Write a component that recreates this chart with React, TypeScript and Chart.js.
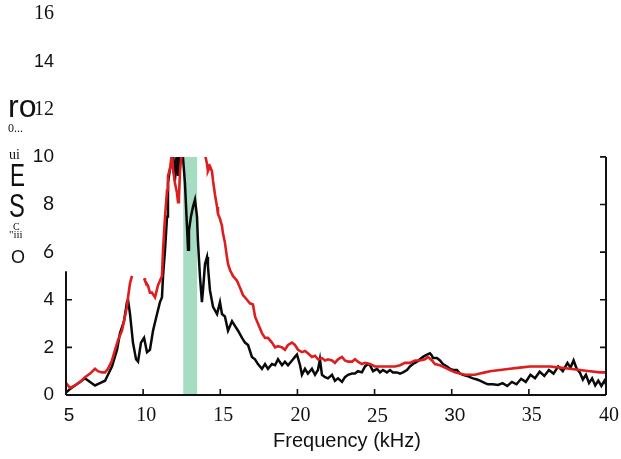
import { useEffect, useRef } from "react";
import { Chart, registerables } from "chart.js";

Chart.register(...registerables);

// ---------- data ----------
const blackFreq = [
  5.0, 5.26, 5.58, 5.91, 6.23, 6.56, 6.88, 7.2, 7.53, 7.72, 7.98, 8.31, 8.5, 8.76, 8.95, 9.02, 9.15, 9.34, 9.54, 9.67,
  9.86, 10.06, 10.25, 10.44, 10.64, 10.9, 11.09, 11.22, 11.29, 11.42, 11.55, 11.61, 11.74, 11.87, 11.93, 12.06, 12.19,
  12.26, 12.39, 12.52, 12.71, 12.84, 12.91, 12.97, 13.1, 13.23, 13.36, 13.49, 13.55, 13.68, 13.81, 13.88, 14.01, 14.14,
  14.2, 14.33, 14.53, 14.79, 14.98, 15.11, 15.3, 15.5, 15.76, 15.95, 16.15, 16.41, 16.6, 16.8, 17.05, 17.25, 17.44,
  17.7, 17.9, 18.09, 18.35, 18.55, 18.74, 19.0, 19.19, 19.39, 19.65, 19.84, 19.97, 20.17, 20.29, 20.49, 20.68, 20.94,
  21.14, 21.33, 21.46, 21.59, 21.79, 21.98, 22.24, 22.43, 22.63, 22.89, 23.08, 23.28, 23.54, 23.73, 23.92, 24.18, 24.38,
  24.57, 24.7, 24.9, 25.16, 25.35, 25.54, 25.8, 26.0, 26.19, 26.45, 26.65, 26.84, 27.1, 27.29, 27.49, 27.75, 27.94,
  28.14, 28.4, 28.59, 28.72, 28.78, 29.04, 29.24, 29.43, 29.69, 29.89, 30.08, 30.34, 30.53, 30.73, 30.99, 31.18, 31.38,
  31.64, 31.83, 32.16, 32.35, 32.67, 33.0, 33.3, 33.6, 33.9, 34.2, 34.5, 34.8, 35.1, 35.4, 35.7, 36.0, 36.3, 36.6, 36.9,
  37.2, 37.5, 37.7, 37.9, 38.1, 38.3, 38.5, 38.7, 38.9, 39.1, 39.3, 39.5, 39.7, 39.9, 40.0,
];
const blackLevel = [
  0.1, 0.25, 0.4, 0.55, 0.7, 0.55, 0.4, 0.5, 0.6, 0.85, 1.2, 1.9, 2.6, 3.1, 3.9, 4.0, 3.4, 2.2, 1.5, 1.4,
  2.2, 2.4, 1.8, 1.9, 2.7, 3.4, 3.9, 4.1, 5.0, 6.1, 7.5, 8.9, 9.5, 9.7, 10.3, 9.0, 10.3,
  9.2, 10.5, 10.5, 8.9, 7.1, 6.1, 6.9, 7.5, 7.9, 8.2, 7.5, 6.5, 5.0, 3.9, 4.4, 5.5, 5.8,
  5.4, 4.4, 3.7, 3.4, 3.9, 3.4, 3.3, 2.7, 3.1, 2.9, 2.7, 2.4, 2.2, 2.1, 1.6, 1.5, 1.3,
  1.1, 1.3, 1.1, 1.3, 1.25, 1.5, 1.25, 1.4, 1.25, 1.45, 1.6, 1.7, 1.25, 0.85, 1.1, 0.9, 1.1,
  0.85, 1.05, 1.5, 0.85, 0.75, 0.7, 0.85, 0.6, 0.7, 0.55, 0.75, 0.85, 0.9, 0.9, 1.0, 0.95, 1.2,
  1.3, 1.25, 1.0, 1.1, 0.95, 1.05, 0.95, 1.05, 0.95, 0.95, 0.9, 0.95, 1.05, 1.2, 1.3, 1.4, 1.5,
  1.6, 1.7, 1.75, 1.65, 1.55, 1.55, 1.45, 1.3, 1.2, 1.1, 1.05, 1.05, 0.9, 0.85, 0.8, 0.75, 0.7,
  0.65, 0.6, 0.5, 0.45, 0.45, 0.42, 0.5, 0.38, 0.55, 0.45, 0.68, 0.55, 0.85, 0.7, 0.98, 0.8, 1.05, 0.9, 1.2,
  1.0, 1.35, 1.15, 1.45, 1.1, 0.95, 0.65, 0.85, 0.5, 0.7, 0.4, 0.6, 0.38, 0.6, 0.45,
];

const redFreq = [
  5.0, 5.26, 5.58, 5.91, 6.23, 6.56, 6.88, 7.07, 7.33, 7.53, 7.72, 7.98, 8.18, 8.37, 8.63, 8.82, 8.95, 9.02, 9.15, 9.28,
  9.6, 10.06, 10.12, 10.31, 10.44, 10.57, 10.77, 10.96, 11.09, 11.22, 11.29, 11.42, 11.55, 11.61, 11.74, 11.87, 11.93,
  12.06, 12.19, 12.26, 12.32, 12.39, 12.52, 13.2, 14.01, 14.14, 14.2, 14.33, 14.46, 14.53, 14.66, 14.79, 14.85, 14.98,
  15.11, 15.17, 15.3, 15.43, 15.5, 15.63, 15.82, 16.08, 16.28, 16.47, 16.73, 16.92, 17.12, 17.25, 17.44, 17.7, 17.9,
  18.09, 18.35, 18.55, 18.74, 19.0, 19.19, 19.39, 19.65, 19.84, 20.04, 20.29, 20.49, 20.68, 20.94, 21.14, 21.33, 21.59,
  21.79, 21.98, 22.24, 22.43, 22.63, 22.89, 23.08, 23.28, 23.54, 23.73, 23.92, 24.18, 24.38, 24.7, 25.03, 25.35, 25.67,
  26.0, 26.32, 26.65, 26.97, 27.29, 27.62, 27.94, 28.27, 28.46, 28.72, 28.91, 29.24, 29.56, 29.89, 30.21, 30.53, 30.86,
  31.18, 31.51, 31.83, 32.16, 32.48, 33.13, 33.77, 34.42, 35.07, 35.72, 36.37, 37.02, 37.66, 38.31, 38.96, 39.61, 40.0,
];
const redLevel: (number | null)[] = [
  0.5, 0.3, 0.4, 0.55, 0.75, 0.9, 1.1, 1.0, 0.95, 0.95, 1.1, 1.45, 1.9, 2.3, 2.7, 3.3, 3.7, 4.1, 4.7, 5.0,
  null, 4.9, 4.8, 4.6, 4.3, 4.3, 4.1, 4.6, 4.8, 5.0, 6.1, 7.5, 8.6, 9.2, 9.5, 10.2, 9.5,
  8.9, 8.5, 8.1, 8.3, 9.4, 10.3, null, 10.1, 9.7, 9.4, 9.6, 9.4, 9.0, 8.4, 7.9, 7.6, 7.4,
  7.1, 6.8, 6.4, 5.8, 5.5, 5.25, 5.0, 4.8, 4.5, 4.2, 4.0, 3.85, 3.8, 3.3, 3.0, 2.6, 2.4,
  2.4, 2.2, 2.0, 2.05, 2.0, 1.9, 2.1, 2.2, 2.1, 1.9, 1.8, 1.85, 1.75, 1.6, 1.65, 1.5, 1.55,
  1.45, 1.5, 1.45, 1.35, 1.5, 1.6, 1.45, 1.4, 1.4, 1.5, 1.4, 1.3, 1.35, 1.3, 1.2, 1.2, 1.2,
  1.2, 1.2, 1.25, 1.35, 1.35, 1.45, 1.45, 1.5, 1.6, 1.45, 1.3, 1.25, 1.15, 1.05, 0.95, 0.9, 0.85,
  0.85, 0.85, 0.9, 0.95, 1.0, 1.05, 1.1, 1.15, 1.2, 1.2, 1.2, 1.15, 1.1, 1.05, 1.0, 0.95, 0.95,
];

const xTickValues = [5, 10, 15, 20, 25, 30, 35, 40];
const yTickValues = [0, 2, 4, 6, 8, 10, 12, 14, 16];
const bottomAxisTicks = [10, 15, 20, 25, 30, 35];
const leftAxisTicks = [2, 4];
const rightAxisTicks = [2, 4, 6, 8, 10];
const bandRange = [12.6, 13.5];
const plotTopValue = 10;
const leftAxisTopValue = 5.2;
const xTitle = "Frequency (kHz)";
const yTitleFragments = ["ro", "0...", "ui", "E", "S", "C", '"iii', "O"];

// ---------- styles ----------
const SERIF = '"Liberation Serif", "Times New Roman", serif';
const SANS = '"Liberation Sans", Arial, sans-serif';
const INK = "#111111";

const yTickFont: Record<number, { family: string; size: number }> = {
  16: { family: SERIF, size: 20 },
  14: { family: SANS, size: 18 },
  12: { family: SERIF, size: 20 },
  10: { family: SANS, size: 19 },
  8: { family: SANS, size: 20 },
  6: { family: "Lato, " + SANS, size: 19 },
  4: { family: SANS, size: 19 },
  2: { family: SANS, size: 19 },
  0: { family: SANS, size: 19 },
};
const xTickFont: Record<number, { family: string; size: number }> = {
  5: { family: SANS, size: 19 },
  10: { family: SERIF, size: 20 },
  15: { family: SERIF, size: 20 },
  20: { family: SERIF, size: 20 },
  25: { family: SERIF, size: 21 },
  30: { family: SANS, size: 19 },
  35: { family: SERIF, size: 20 },
  40: { family: SERIF, size: 20 },
};

// position/font of each fragment of the (scanned) vertical axis title
const yTitleLayout = [
  { x: 8, y: 117, font: `32px ${SANS}`, sx: 1 },
  { x: 8, y: 132, font: `12px ${SERIF}`, sx: 1 },
  { x: 9, y: 159, font: `14px ${SERIF}`, sx: 1 },
  { x: 10, y: 186, font: `32px ${SANS}`, sx: 0.7 },
  { x: 9, y: 217, font: `33px ${SANS}`, sx: 0.72 },
  { x: 13, y: 230, font: `10px ${SERIF}`, sx: 1 },
  { x: 9, y: 238, font: `11px ${SERIF}`, sx: 1 },
  { x: 11, y: 263, font: `18px ${SANS}`, sx: 1 },
];

const decorPlugin = {
  id: "decor",
  beforeDatasetsDraw(chart: any) {
    const { ctx, chartArea } = chart;
    const xs = chart.scales.x;
    const ys = chart.scales.y;
    const top = ys.getPixelForValue(plotTopValue);
    const bottom = ys.getPixelForValue(0);
    const b0 = xs.getPixelForValue(bandRange[0]);
    const b1 = xs.getPixelForValue(bandRange[1]);
    ctx.save();
    ctx.fillStyle = "#a6dcc2";
    ctx.fillRect(b0, top, b1 - b0, bottom - top);
    ctx.restore();
    ctx.save();
    ctx.beginPath();
    ctx.rect(chartArea.left, top, chartArea.right - chartArea.left, bottom - top + 3);
    ctx.clip();
  },
  afterDatasetsDraw(chart: any) {
    const { ctx, chartArea } = chart;
    ctx.restore();
    const xs = chart.scales.x;
    const ys = chart.scales.y;
    const bottom = ys.getPixelForValue(0);
    const left = chartArea.left;
    const right = chartArea.right;
    ctx.save();
    ctx.strokeStyle = INK;
    ctx.lineWidth = 2;
    ctx.beginPath();
    ctx.moveTo(left, bottom);
    ctx.lineTo(right, bottom);
    ctx.moveTo(right, bottom);
    ctx.lineTo(right, ys.getPixelForValue(plotTopValue));
    ctx.moveTo(left, bottom);
    ctx.lineTo(left, ys.getPixelForValue(leftAxisTopValue));
    ctx.stroke();
    ctx.lineWidth = 1.6;
    ctx.beginPath();
    const tl = 6;
    for (const v of bottomAxisTicks) {
      const px = xs.getPixelForValue(v);
      ctx.moveTo(px, bottom);
      ctx.lineTo(px, bottom - tl);
    }
    for (const v of leftAxisTicks) {
      const py = ys.getPixelForValue(v);
      ctx.moveTo(left, py);
      ctx.lineTo(left + tl, py);
    }
    for (const v of rightAxisTicks) {
      const py = ys.getPixelForValue(v);
      ctx.moveTo(right, py);
      ctx.lineTo(right - tl, py);
    }
    ctx.stroke();
    ctx.restore();
  },
  afterDraw(chart: any) {
    const { ctx, chartArea } = chart;
    ctx.save();
    ctx.fillStyle = INK;
    ctx.textBaseline = "alphabetic";
    ctx.textAlign = "center";
    ctx.font = `20px ${SANS}`;
    ctx.fillText(xTitle, (chartArea.left + chartArea.right) / 2 + 11, 447);
    ctx.textAlign = "left";
    yTitleFragments.forEach((t, i) => {
      const l = yTitleLayout[i];
      ctx.save();
      ctx.font = l.font;
      ctx.translate(l.x, l.y);
      ctx.scale(l.sx, 1);
      ctx.fillText(t, 0, 0);
      ctx.restore();
    });
    ctx.restore();
  },
};

export default function App() {
  const ref = useRef<HTMLCanvasElement | null>(null);
  useEffect(() => {
    if (!ref.current) return;
    const chart = new Chart(ref.current, {
      type: "line",
      data: {
        datasets: [
          {
            label: "red",
            data: redFreq.map((f, i) => ({ x: f, y: redLevel[i] })),
            borderColor: "rgb(222,30,30)",
            borderWidth: 2.6,
            pointRadius: 0,
            tension: 0,
            spanGaps: false,
            clip: false as any,
          },
          {
            label: "black",
            data: blackFreq.map((f, i) => ({ x: f, y: blackLevel[i] })),
            borderColor: "#0a0a0a",
            borderWidth: 2.5,
            pointRadius: 0,
            tension: 0,
            clip: false as any,
          },
        ],
      },
      options: {
        animation: false,
        responsive: true,
        maintainAspectRatio: false,
        layout: { padding: { top: 14, right: 15, left: 0, bottom: 0 } },
        plugins: { legend: { display: false }, tooltip: { enabled: false } },
        scales: {
          x: {
            type: "linear",
            min: 5,
            max: 40,
            grid: { display: false },
            border: { display: false },
            afterBuildTicks: (s: any) => {
              s.ticks = xTickValues.map((v) => ({ value: v }));
            },
            afterFit: (s: any) => {
              s.height = 64;
              s.paddingLeft = 0;
              s.paddingRight = 0;
            },
            ticks: {
              autoSkip: false,
              maxRotation: 0,
              padding: 1,
              labelOffset: 3,
              color: INK,
              callback: (v: any) => String(v),
              font: (c: any) => {
                const f = xTickFont[c.tick ? c.tick.value : 5] || xTickFont[5];
                return { family: f.family, size: f.size };
              },
            },
          },
          y: {
            type: "linear",
            min: 0,
            max: 16,
            grid: { display: false },
            border: { display: false },
            afterBuildTicks: (s: any) => {
              s.ticks = yTickValues.map((v) => ({ value: v }));
            },
            afterFit: (s: any) => {
              s.width = 66;
              s.paddingTop = 0;
              s.paddingBottom = 0;
            },
            ticks: {
              autoSkip: false,
              padding: 4,
              color: INK,
              callback: (v: any) => String(v),
              font: (c: any) => {
                const f = yTickFont[c.tick ? c.tick.value : 0] || yTickFont[0];
                return { family: f.family, size: f.size };
              },
            },
          },
        },
      },
      plugins: [decorPlugin],
    });
    return () => chart.destroy();
  }, []);
  return (
    <div style={{ position: "absolute", left: 0, top: 0, width: 621, height: 459, background: "#fff" }}>
      <canvas ref={ref} />
    </div>
  );
}
